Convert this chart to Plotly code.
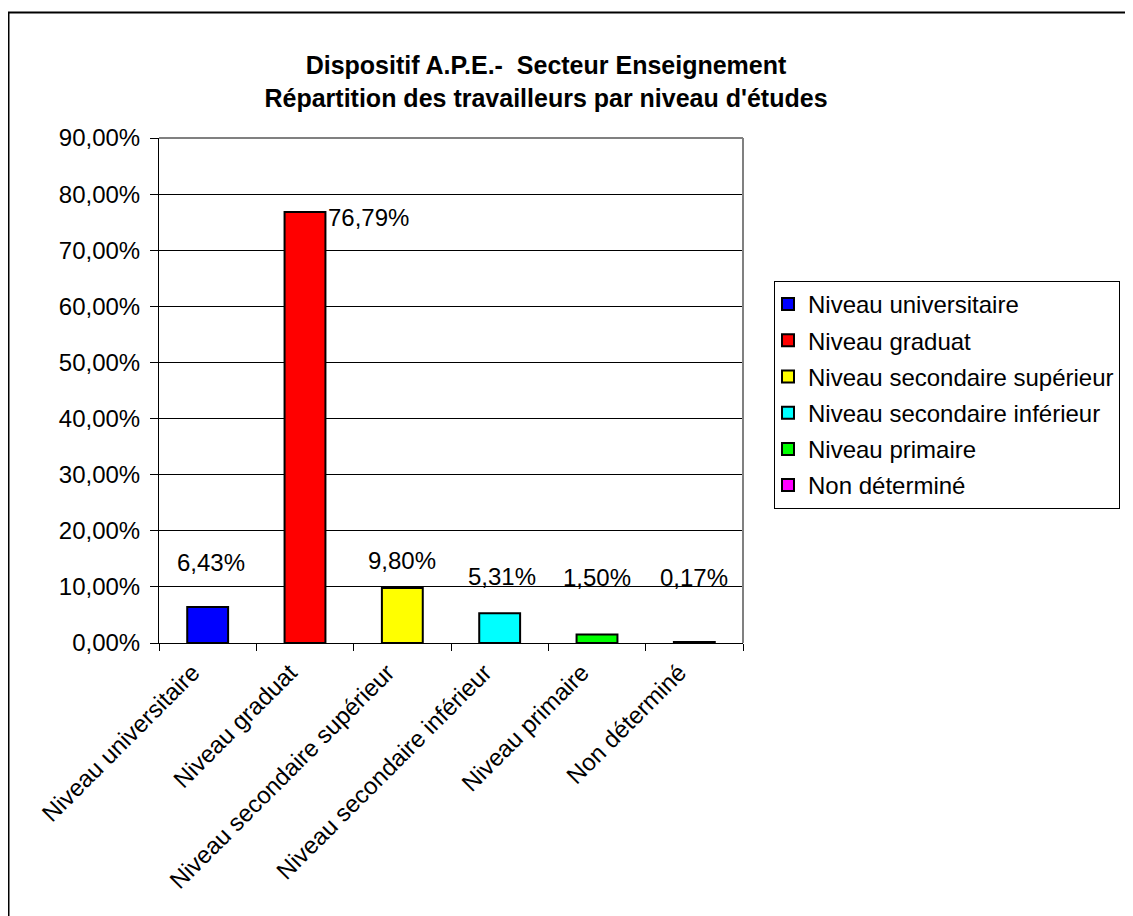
import plotly.graph_objects as go

categories = ["Niveau universitaire", "Niveau graduat", "Niveau secondaire supérieur",
              "Niveau secondaire inférieur", "Niveau primaire", "Non déterminé"]
values = [0.0643, 0.7679, 0.0980, 0.0531, 0.0150, 0.0017]
value_labels = ["6,43%", "76,79%", "9,80%", "5,31%", "1,50%", "0,17%"]
y_ticks = [0, 0.1, 0.2, 0.3, 0.4, 0.5, 0.6, 0.7, 0.8, 0.9]

colors = ["#0000FF", "#FF0000", "#FFFF00", "#00FFFF", "#00FF00", "#FF00FF"]
# label placement (pixel shifts relative to bar top)
label_yshift = [44, -5, 28, 37, 57, 65]
label_xshift = [3, 21, 0, 2, 0, 0]
label_xanchor = ["center", "left", "center", "center", "center", "center"]

FONT = "Liberation Sans, Arial, sans-serif"

fig = go.Figure()
for i, cat in enumerate(categories):
    fig.add_trace(go.Bar(
        x=[cat], y=[values[i]], name=cat, legendgroup=cat,
        marker=dict(color=colors[i], line=dict(color="black", width=2)),
        width=0.42, hoverinfo="skip",
    ))
    fig.add_annotation(
        x=cat, y=values[i], xref="x", yref="y", text=value_labels[i],
        showarrow=False, yshift=label_yshift[i], xshift=label_xshift[i],
        xanchor=label_xanchor[i], yanchor="middle",
        font=dict(family=FONT, size=24, color="black"),
    )

L, R, T, B = 151, 735, 130, 635
W, H = 1133, 916
pw, ph = R - L, B - T

def px(x):
    return (x - L) / pw

def py(y):
    return (B - y) / ph

# outer chart frame
fig.add_shape(type="rect", xref="paper", yref="paper",
              x0=px(0.5), x1=px(1145), y0=py(930), y1=py(4.5),
              line=dict(color="black", width=2), fillcolor="rgba(0,0,0,0)", layer="below")
# plot area border (grey top/right)
fig.add_shape(type="line", xref="paper", yref="paper", x0=0, x1=1, y0=1, y1=1,
              line=dict(color="#808080", width=2))
fig.add_shape(type="line", xref="paper", yref="paper", x0=1, x1=1, y0=0, y1=1,
              line=dict(color="#808080", width=2))

fig.update_layout(
    width=W, height=H,
    margin=dict(l=L, r=W - R, t=T, b=H - B, pad=0),
    paper_bgcolor="white", plot_bgcolor="white",
    barmode="overlay",
    separators=", ",
    font=dict(family=FONT, size=24, color="black"),
    title=dict(
        text="<b>Dispositif A.P.E.-  Secteur Enseignement<br>Répartition des travailleurs par niveau d'études</b>",
        x=px(538), xref="paper", xanchor="center",
        y=1 - 66 / H, yref="container", yanchor="middle",
        font=dict(family=FONT, size=25, color="black"),
    ),
    showlegend=True,
    legend=dict(
        x=px(766), y=py(273), xanchor="left", yanchor="top",
        bordercolor="black", borderwidth=1, bgcolor="white",
        font=dict(family=FONT, size=24, color="black"),
        tracegroupgap=2, itemclick=False, itemwidth=30, indentation=-7,
    ),
    xaxis=dict(
        type="category", categoryorder="array", categoryarray=categories,
        tickangle=-45, showgrid=False, showline=True, linecolor="black", linewidth=1,
        ticks="outside", ticklen=7, tickcolor="black", tickson="boundaries",
        ticklabelshift=-15, ticklabelstandoff=5,
        tickfont=dict(family=FONT, size=24),
    ),
    yaxis=dict(
        range=[0, 0.9], tickvals=y_ticks, tickformat=".2%",
        showgrid=True, gridcolor="black", gridwidth=1,
        showline=True, linecolor="black", linewidth=1,
        ticks="outside", ticklen=8, tickcolor="black", ticklabelstandoff=5,
        tickfont=dict(family=FONT, size=24), zeroline=False,
    ),
)

fig.write_html("out.html")
